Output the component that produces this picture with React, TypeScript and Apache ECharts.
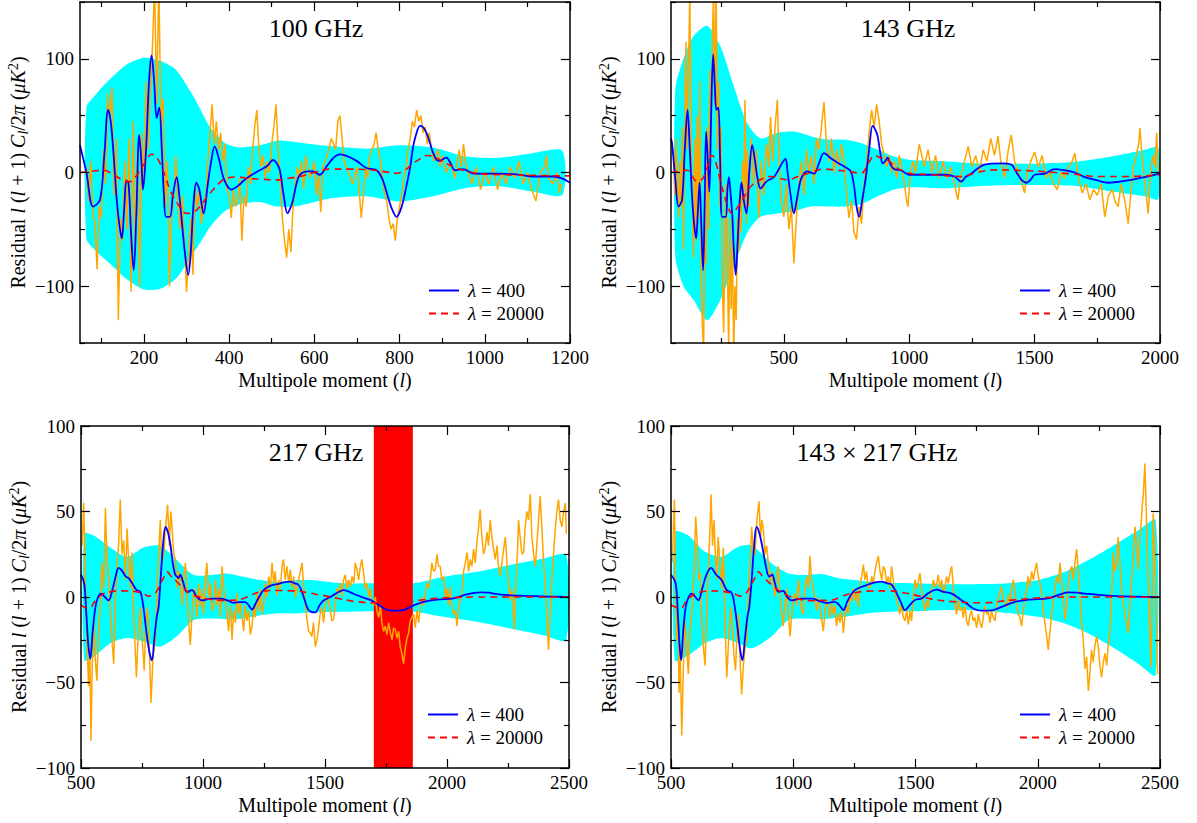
import { useEffect, useRef } from 'react';
import * as echarts from 'echarts';

const FONT = "'Liberation Serif', 'DejaVu Serif', 'Times New Roman', serif";

// ---------- text ----------
const panelTitles = ['100 GHz', '143 GHz', '217 GHz', '143 × 217 GHz'];
const legendNames = ['λ = 400', 'λ = 20000'];
const xAxisName = 'Multipole moment ({i|l})';
const yAxisName = 'Residual {i|l} ({i|l} + 1) {i|C}{sub|l}/2{i|π} ({i|μK}{sup|2})';

// ---------- axes ----------
const xRange100 = [50, 1200];
const xRange143 = [50, 2000];
const xRangeHigh = [500, 2500];
const yRangeTop = [-150, 150];
const yRangeBottom = [-100, 100];

const xLabels100 = [200, 400, 600, 800, 1000, 1200];
const xMinor100 = [100, 300, 500, 700, 900, 1100];
const xLabels143 = [500, 1000, 1500, 2000];
const xMinor143 = [250, 750, 1250, 1750];
const xLabelsHigh = [500, 1000, 1500, 2000, 2500];
const xMinorHigh = [750, 1250, 1750, 2250];
const yLabelsTop = [-100, 0, 100];
const yMinorTop = [-150, -50, 50, 150];
const yLabelsBottom = [-100, -50, 0, 50, 100];
const yMinorBottom = [-75, -25, 25, 75];

// masked multipole range in the 217 GHz panel
const masked217 = [1700, 1860];

// ---------- 100 GHz ----------
const bandL100 = [65, 90, 120, 160, 200, 240, 276, 316, 340, 355, 378, 394, 425, 472, 511, 550, 589, 643, 722, 800, 878, 956, 1034, 1112, 1182];
const bandHi100 = [57, 70, 82, 95, 101, 98, 90, 67, 50, 40, 30, 25, 22, 24, 28, 27, 25, 23, 21, 24, 22, 14, 13, 17, 19];
const bandLo100 = [-58, -70, -80, -94, -103, -102, -93, -71, -57, -48, -38, -33, -28, -26, -30, -30, -27, -22.5, -21, -25.5, -21, -13.6, -12, -16.7, -19.6];

const blue100 = [[50,24],[65,0],[81,-30],[97,-24],[107,15],[116,55],[122,45],[128,20],[136,-23],[142,-45],[148,-58],[154,-30],[159,-7],[164,-10],[170,-55],[176,-86],[182,-40],[189,33],[194,10],[198,-15],[205,20],[212,80],[218,103],[224,80],[230,48],[236,57],[242,20],[247,-20],[252,-39],[261,-39],[268,-20],[277,-4],[283,-20],[288,-39],[296,-70],[304,-90],[310,-70],[316,-30],[323,-9],[330,-15],[340,-36],[350,-10],[358,10],[366,23],[376,12],[386,-4],[396,-12],[405,-15],[420,-12],[441,-5],[472,2],[490,6],[503,11],[512,8],[519,2],[528,-20],[537,-36],[545,-30],[550,-24],[558,-10],[566,-2],[585,1],[597,1],[612,-2],[630,6],[645,13],[660,16],[680,14],[700,10],[722,4],[746,2],[760,-6],[770,-18],[782,-32],[793,-39],[805,-30],[816,-12],[825,5],[832,23],[840,35],[848,41],[855,40],[863,35],[872,25],[879,17],[887,11],[895,10],[903,12],[910,13],[920,8],[930,2],[950,3],[973,-1],[1035,-1],[1082,-2],[1113,-3.5],[1160,-3.5],[1180,-5],[1200,-9]];
const red100 = [[50,0],[75,1],[105,2],[120,0],[136,-3.5],[152,-7],[167,-8],[180,-4],[191,2],[205,10],[218,16],[228,14],[238,8],[250,-3],[261,-15],[275,-25],[288,-32],[300,-36],[315,-35],[331,-30],[347,-22],[363,-15],[378,-9],[394,-5],[420,-4],[441,-5],[480,-6],[511,-6.5],[540,-5],[566,-3.5],[600,0],[643,3],[680,3],[722,2.4],[760,1],[793,-0.6],[812,2],[832,8],[848,12],[863,15],[880,14],[895,11],[915,7],[934,4],[960,1],[989,-1],[1050,-2],[1120,-2.5],[1192,-3],[1200,-3]];
const orange100 = [[65,5],[70,-25],[75,10],[80,-35],[85,-45],[90,-85],[95,-30],[100,-40],[105,20],[110,-10],[115,70],[120,45],[125,75],[130,-20],[135,30],[140,-130],[145,-40],[150,-60],[155,10],[160,-50],[165,30],[170,-105],[175,45],[180,-70],[185,20],[190,-100],[195,35],[200,-10],[205,80],[210,20],[215,70],[220,110],[225,165],[230,60],[235,170],[240,40],[245,65],[250,-30],[255,10],[260,-100],[265,-40],[270,-20],[275,15],[280,-30],[285,-50],[290,-20],[295,-60],[300,-105],[305,-70],[310,-40],[315,-90],[320,-10],[325,-30],[330,-15],[335,-45],[340,-30],[345,-20],[350,10],[355,35],[360,60],[365,25],[370,45],[375,20],[380,35],[385,10],[390,25],[395,-15],[400,-20],[405,-40],[410,-15],[415,-30],[420,-25],[425,-5],[430,-60],[435,-20],[440,-30],[445,5],[450,-10],[455,20],[460,40],[465,55],[470,20],[475,5],[480,15],[485,-5],[490,10],[495,0],[500,25],[505,40],[510,60],[515,20],[520,-10],[525,-40],[530,-60],[535,-75],[540,-50],[545,-70],[550,-30],[555,-10],[560,5],[565,-5],[570,10],[575,-15],[580,15],[590,-5],[600,10],[605,-20],[610,0],[615,-35],[620,5],[630,15],[640,30],[650,20],[655,45],[660,50],[665,30],[670,10],[680,0],[690,-10],[700,5],[705,-15],[710,-40],[715,-20],[720,5],[725,-5],[730,15],[740,25],[745,35],[750,20],[755,10],[760,-5],[765,-20],[770,-25],[775,-40],[780,-50],[785,-45],[790,-60],[795,-40],[800,-30],[805,-20],[810,-5],[815,5],[820,20],[825,30],[830,45],[835,40],[840,55],[845,45],[850,50],[855,35],[860,40],[865,25],[870,35],[875,20],[880,10],[890,20],[895,5],[900,15],[910,0],[920,10],[930,-5],[940,20],[945,5],[950,25],[955,10],[960,0],[970,-10],[980,5],[990,-15],[1000,0],[1010,-10],[1020,5],[1030,-15],[1040,0],[1050,-10],[1060,5],[1070,-5],[1080,10],[1090,-10],[1100,0],[1110,-15],[1120,-25],[1130,0],[1140,5],[1145,15],[1150,-5],[1160,-10],[1170,0],[1175,-18],[1180,-10]];

// ---------- 143 GHz ----------
const bandL143 = [67, 100, 140, 194, 247, 300, 354, 407, 474, 540, 607, 674, 740, 807, 874, 940, 1007, 1140, 1274, 1407, 1540, 1674, 1807, 1940, 1993];
const bandHi143 = [73, 100, 120, 129, 111, 76, 43, 30, 35, 36, 32, 29, 29, 26, 20, 14, 11, 10, 8, 7.6, 8, 9.7, 14, 20, 22];
const bandLo143 = [-74, -100, -112, -130, -112, -83, -53, -39, -36, -34, -30, -30, -30, -28, -21, -15, -13, -13.8, -12, -11, -11, -12, -16.7, -21, -23.5];

const blue143 = [[50,30],[54,26],[67,-5],[80,-30],[94,-24],[105,20],[116,55],[125,20],[134,-21],[142,-45],[150,-58],[157,-35],[164,-9],[170,-40],[178,-86],[184,-30],[190,36],[197,10],[203,-17],[210,50],[218,104],[225,75],[231,55],[239,57],[246,10],[254,-39],[268,-39],[275,-15],[281,-4],[288,-20],[294,-36],[301,-70],[308,-90],[316,-60],[324,-25],[331,-9],[340,-24],[351,-36],[362,0],[374,24],[385,10],[395,-5],[407,-14],[430,-8],[460,-4],[480,3],[495,9],[507,12],[514,2],[527,-20],[540,-36],[554,-21],[570,-5],[594,1],[620,-1],[640,8],[660,17],[690,12],[727,7],[750,4],[767,1],[780,-12],[790,-30],[800,-39],[812,-25],[827,-4],[840,20],[854,41],[864,38],[874,32],[884,18],[894,8],[904,10],[914,13],[925,7],[940,3],[967,2],[1000,-2],[1140,-2],[1180,-3.5],[1207,-8],[1225,-4],[1247,-1],[1270,3],[1300,7],[1367,8],[1407,7],[1420,3],[1434,-2],[1450,-7],[1467,-9],[1485,-6],[1500,-2],[1540,-1],[1580,3],[1620,2],[1660,0],[1700,-4],[1750,-7],[1793,-9],[1840,-8],[1873,-7],[1940,-4],[2000,-1]];
const red143 = [[50,0],[80,1],[114,2],[134,-3],[154,-8],[167,-7],[180,-4],[197,6],[214,15],[230,8],[247,-8],[260,-18],[277,-30],[294,-36],[314,-31],[334,-24],[354,-17],[374,-11],[410,-6],[447,-3.5],[480,-5],[514,-6.5],[550,-4],[580,-2],[620,1],[660,3],[710,2],[754,1],[807,-0.6],[830,5],[845,11],[860,15],[885,13],[914,11],[945,5],[980,1],[1007,-1],[1100,-2],[1207,-3.5],[1270,0],[1340,2.3],[1447,1.8],[1580,0],[1680,-2],[1753,-3.5],[1873,-3.5],[2000,-2]];
const orange143 = [[60,20],[65,-20],[70,30],[75,-10],[80,-40],[85,10],[90,-30],[95,40],[100,-68],[105,60],[110,115],[115,20],[120,90],[125,160],[130,40],[135,-30],[140,-75],[145,30],[150,-60],[155,50],[160,-40],[165,80],[170,-90],[175,-134],[180,-160],[185,-20],[190,-80],[195,40],[200,-50],[205,90],[210,30],[215,120],[220,160],[225,60],[230,165],[235,20],[240,80],[245,-30],[250,40],[255,-100],[260,-141],[265,-60],[270,-10],[275,-80],[280,-160],[285,-40],[290,-120],[295,-60],[300,-160],[305,-100],[310,-130],[315,-40],[320,-70],[325,-20],[330,-53],[335,10],[340,-30],[345,64],[350,-45],[355,20],[360,-30],[370,30],[380,-10],[390,20],[400,-40],[410,10],[420,-20],[430,25],[440,5],[447,49],[455,10],[465,40],[474,64],[480,20],[490,-25],[500,-39],[510,-10],[520,-50],[530,-30],[540,-80],[550,-40],[560,-10],[570,10],[580,-20],[590,20],[600,0],[610,15],[620,-10],[630,30],[640,20],[650,40],[660,62],[670,25],[680,10],[690,30],[700,0],[710,20],[720,5],[730,25],[740,10],[750,-20],[760,-40],[770,-25],[780,-53],[790,-59],[800,-30],[810,-45],[820,-10],[830,10],[840,35],[850,55],[860,40],[870,60],[880,45],[890,25],[900,15],[910,5],[920,15],[930,0],[940,10],[950,-5],[960,15],[970,5],[980,-10],[990,-25],[995,-30],[1005,0],[1015,10],[1025,0],[1040,25],[1050,15],[1060,5],[1075,20],[1090,0],[1105,15],[1120,-5],[1135,10],[1150,-5],[1165,5],[1180,-10],[1194,-24],[1205,-5],[1220,10],[1235,23],[1250,5],[1265,15],[1280,0],[1295,20],[1310,10],[1325,30],[1340,15],[1354,32],[1365,10],[1380,-5],[1395,20],[1407,33],[1420,10],[1435,0],[1450,-10],[1460,-18],[1470,0],[1485,10],[1500,18],[1515,5],[1530,15],[1545,-5],[1560,0],[1575,-10],[1590,-15],[1605,0],[1620,-5],[1635,5],[1650,10],[1660,17],[1675,-5],[1690,-18],[1705,-10],[1720,-24],[1735,-15],[1750,-20],[1765,-10],[1780,-39],[1795,-20],[1810,-15],[1820,-25],[1833,-30],[1845,-10],[1860,-25],[1873,-45],[1885,-15],[1895,5],[1905,15],[1915,25],[1920,39],[1930,10],[1940,-10],[1953,-36],[1962,0],[1972,15],[1980,5],[1987,35],[1993,-3]];

// ---------- 217 GHz ----------
const bandL217 = [513, 552, 620, 688, 757, 825, 893, 962, 1030, 1098, 1166, 1235, 1303, 1371, 1440, 1576, 1686, 1863, 1986, 2123, 2259, 2396, 2488];
const bandHi217 = [37, 36, 29, 23.5, 29, 30, 21.5, 12.8, 12.8, 13.7, 11.8, 9.9, 8.9, 9.9, 9.9, 8, 8, 8, 11.8, 14.7, 18.7, 22.5, 24.5];
const bandLo217 = [-37, -35, -27, -24, -26, -29, -23, -13.5, -12.6, -13, -12.6, -10.6, -9.6, -9.6, -9, -8.6, -8.3, -8.6, -11.6, -14.5, -18.4, -22.3, -25];

const blue217 = [[500,13],[513,8],[522,-10],[530,-28],[538,-36],[548,-20],[559,-6],[570,0],[582,2],[598,0],[613,-2],[630,5],[642,12],[654,17],[670,15],[683,12],[695,11],[710,8],[728,4],[743,3],[755,-5],[766,-18],[780,-32],[791,-37],[800,-25],[810,-12],[818,-6],[826,10],[836,30],[846,41],[856,38],[866,31],[876,20],[886,13],[893,12],[900,11],[907,13],[918,9],[934,3],[955,4],[975,0],[996,-2],[1030,-1],[1071,-1],[1100,-2],[1126,-3.4],[1150,-3],[1173,-3],[1188,-5],[1201,-7.3],[1215,-4],[1230,0],[1248,4],[1275,6.5],[1303,7.5],[1330,8.5],[1358,9],[1375,8],[1388,7.5],[1400,5],[1415,-1],[1433,-7.7],[1460,-9],[1477,-5],[1494,-2],[1522,0],[1550,2.5],[1576,4],[1600,3],[1631,1],[1660,-0.5],[1690,-2],[1713,-4],[1740,-6.5],[1768,-8],[1795,-8],[1822,-7.7],[1860,-5],[1904,-2.8],[1960,-1.5],[2027,-0.8],[2080,1.5],[2136,2.7],[2170,2.5],[2205,1.7],[2260,1],[2314,0.7],[2400,0.3],[2500,0]];
const red217 = [[500,-4.7],[515,-6],[531,-6.7],[560,-2],[593,2],[620,3],[654,3.6],[690,3.5],[730,3],[760,1.5],[777,0.5],[795,1.5],[811,3.6],[830,9],[845,13],[852,14.7],[870,12],[893,8.9],[920,5],[962,1.1],[1010,-0.8],[1057,-1.8],[1100,-2],[1139,-1.8],[1180,0],[1235,3],[1300,3.8],[1371,3.6],[1430,2.5],[1481,1.1],[1508,0.5],[1560,-1],[1620,-2.5],[1713,-3.4],[1795,-3.4],[1880,-2],[1959,-0.8],[2050,-0.2],[2123,0],[2300,0],[2500,0]];
const orange217 = [[505,30],[511,55],[518,10],[524,-23],[531,-52],[536,-30],[541,-84],[546,-40],[552,-13],[558,-35],[565,-49],[572,-20],[579,-6],[586,20],[593,5],[600,52],[606,25],[613,12],[620,-10],[627,-25],[634,-39],[640,-5],[647,16],[654,30],[661,57],[668,25],[675,33],[682,10],[689,40],[695,22],[702,5],[709,26],[716,-10],[722,-30],[727,-47],[735,-20],[743,-6],[751,-25],[759,-43],[766,-15],[773,-6],[780,-30],[787,-62],[795,-35],[805,-25],[812,5],[818,25],[825,45],[832,20],[839,24],[846,40],[855,54],[862,30],[868,50],[873,41],[880,25],[887,22],[895,5],[900,15],[907,10],[915,-5],[920,10],[928,20],[935,0],[941,-15],[948,-28],[955,-10],[962,5],[969,2],[976,-12],[982,8],[989,-6],[996,5],[1003,-10],[1009,10],[1016,20],[1023,0],[1030,8],[1037,-8],[1044,-6],[1051,10],[1058,-5],[1065,5],[1071,-12],[1078,18],[1085,5],[1092,-3],[1098,-10],[1105,-20],[1112,-5],[1119,-25],[1126,-8],[1133,-15],[1139,2],[1146,-10],[1153,-3],[1160,-12],[1167,-20],[1173,-5],[1180,-14],[1187,-8],[1194,-22],[1201,-17],[1208,-5],[1214,-12],[1221,2],[1228,-8],[1235,5],[1242,-10],[1249,-4],[1256,8],[1262,0],[1269,12],[1276,5],[1283,20],[1290,8],[1296,15],[1303,1],[1310,10],[1317,5],[1324,18],[1330,22],[1337,10],[1344,18],[1351,8],[1358,16],[1365,5],[1372,12],[1378,0],[1385,5],[1392,10],[1399,15],[1406,20],[1413,5],[1420,-5],[1426,-13],[1433,-20],[1440,-21],[1446,-23],[1453,-15],[1460,-29],[1467,-25],[1474,-18],[1480,-10],[1487,-6],[1494,-15],[1501,-5],[1508,0],[1515,-2],[1522,-8],[1528,-14],[1535,-13],[1542,-5],[1549,5],[1556,2],[1563,8],[1570,0],[1576,10],[1583,13],[1590,5],[1597,10],[1604,6],[1611,12],[1618,8],[1624,20],[1631,16],[1638,10],[1645,18],[1651,22],[1658,14],[1665,5],[1672,8],[1679,0],[1686,5],[1692,-2],[1699,-5],[1706,0],[1713,-8],[1720,-12],[1727,-5],[1733,-15],[1740,-20],[1747,-17],[1754,-22],[1761,-15],[1768,-21],[1775,-25],[1781,-18],[1788,-19],[1795,-24],[1802,-20],[1808,-29],[1815,-33],[1822,-39],[1829,-30],[1836,-24],[1843,-21],[1849,-14],[1856,-12],[1863,-10],[1870,-18],[1877,-8],[1884,-15],[1891,-5],[1897,0],[1904,-5],[1911,2],[1918,8],[1925,5],[1931,10],[1938,20],[1945,15],[1952,16],[1959,25],[1965,18],[1972,18],[1979,10],[1986,12],[1993,0],[2000,5],[2006,-5],[2013,6],[2020,-5],[2027,-10],[2034,-8],[2041,-17],[2048,-5],[2054,-2],[2061,2],[2068,15],[2075,20],[2082,26],[2089,15],[2095,22],[2102,18],[2109,28],[2116,20],[2123,33],[2129,40],[2136,51],[2143,35],[2150,25],[2157,29],[2164,38],[2170,30],[2177,45],[2184,35],[2191,28],[2198,22],[2205,30],[2211,18],[2218,12],[2225,20],[2232,28],[2239,35],[2246,20],[2252,8],[2259,-2],[2266,5],[2272,-10],[2276,-19],[2283,10],[2290,30],[2293,45],[2300,35],[2307,25],[2314,26],[2320,40],[2327,50],[2334,45],[2341,60],[2348,35],[2355,25],[2362,18],[2368,30],[2375,45],[2382,59],[2389,40],[2396,20],[2403,6],[2409,-10],[2416,-31],[2423,-10],[2430,10],[2437,26],[2444,40],[2450,50],[2457,57],[2464,45],[2471,41],[2478,50],[2485,55],[2489,37]];

// ---------- 143 x 217 GHz ----------
const bandLX = [516, 571, 639, 707, 775, 830, 912, 980, 1048, 1116, 1184, 1252, 1321, 1389, 1498, 1593, 1730, 1866, 2002, 2111, 2207, 2302, 2411, 2482];
const bandHiX = [38, 36, 26.4, 23.5, 29.4, 30.3, 19.6, 13.8, 12.8, 13.4, 11, 9.9, 8.9, 8.3, 8, 7.5, 7.5, 7.9, 9.9, 14.7, 21.6, 29.4, 39, 45];
const bandLoX = [-37, -34, -27, -24, -27, -30, -23, -13.5, -12.6, -13, -12, -10.6, -9.2, -8.6, -8.3, -7.7, -7.7, -9.2, -11.6, -15.5, -21.3, -29, -39, -45.7];

const blueX = [[500,13],[519,8],[528,-10],[535,-28],[541,-37],[550,-20],[560,-6],[572,0],[585,2],[600,0],[612,-2],[628,5],[645,13],[664,17],[685,13],[707,10],[728,4],[748,2.4],[760,-5],[772,-18],[784,-32],[792,-37],[802,-25],[812,-12],[820,-6],[830,10],[840,30],[850,41],[862,37],[874,29],[888,18],[901,12],[914,13],[925,8],[939,3],[959,3.6],[975,0],[993,-2],[1030,-1],[1075,-1],[1110,-2.5],[1136,-3.4],[1170,-2.8],[1190,-5],[1205,-7.7],[1220,-3],[1235,1],[1252,4],[1280,6],[1307,7.3],[1335,8.5],[1361,9],[1385,8],[1402,7.3],[1420,3],[1440,-3],[1457,-7.7],[1475,-5],[1498,-1.8],[1525,-0.8],[1555,2.5],[1586,4.3],[1615,3],[1648,2],[1680,-1],[1710,-4],[1740,-7],[1770,-8],[1800,-8],[1825,-7.3],[1865,-5],[1907,-2.8],[1970,-1.5],[2043,-0.8],[2090,1.5],[2125,2.7],[2160,2.5],[2193,2],[2250,1.2],[2302,0.7],[2400,0.2],[2500,0]];
const redX = [[500,-4.7],[520,-6],[537,-6.7],[565,-2],[598,2],[625,3],[659,3.6],[695,3.5],[734,2.7],[765,1.5],[782,0.5],[800,1.5],[816,4],[835,9],[850,13],[857,14.7],[875,12],[898,8.9],[930,5],[973,1.1],[1020,-1],[1075,-2.2],[1115,-2],[1157,-1.8],[1200,0.5],[1252,2.5],[1320,3.5],[1389,3.6],[1450,2.5],[1498,1.1],[1560,-1],[1661,-2.8],[1770,-3.4],[1893,-1.8],[2029,-0.4],[2150,0],[2300,0],[2500,0]];
const orangeX = [[505,20],[514,57],[518,15],[523,-25],[528,-10],[533,-56],[538,-35],[544,-81],[550,-45],[557,-13],[564,-30],[571,-45],[578,-20],[587,-6],[594,15],[601,47],[608,30],[614,10],[619,14],[626,-15],[633,-30],[639,-40],[646,-10],[653,16],[658,35],[664,60],[670,30],[676,45],[680,29],[687,10],[693,35],[700,20],[707,5],[714,29],[720,-10],[728,-47],[736,-25],[745,-6],[752,-20],[758,-35],[764,-43],[770,-20],[775,-10],[782,-35],[789,-57],[796,-40],[803,-30],[810,-25],[816,0],[823,20],[830,41],[837,25],[844,25],[851,45],[860,56],[866,35],[872,45],[878,39],[885,25],[891,30],[898,20],[905,8],[912,15],[918,10],[925,0],[932,12],[939,18],[946,0],[952,-8],[959,-17],[966,-5],[973,5],[980,-10],[987,-23],[994,-10],[1000,0],[1007,2],[1014,-5],[1021,10],[1028,0],[1034,-8],[1041,-10],[1048,5],[1055,12],[1062,5],[1068,24],[1075,10],[1082,5],[1089,-2],[1096,-8],[1102,0],[1109,-5],[1116,-13],[1123,-20],[1130,-8],[1136,-2],[1143,-6],[1150,-12],[1157,-3],[1164,-10],[1170,-5],[1177,-17],[1184,-10],[1191,-15],[1198,-8],[1205,-21],[1211,-12],[1218,-5],[1225,-10],[1232,2],[1239,-3],[1245,5],[1252,-2],[1259,3],[1266,-6],[1273,8],[1280,12],[1287,19],[1293,10],[1300,15],[1307,5],[1314,6],[1321,12],[1328,8],[1334,15],[1341,20],[1348,24],[1355,15],[1362,10],[1368,18],[1375,16],[1382,8],[1389,12],[1396,5],[1402,18],[1409,10],[1416,3],[1423,-2],[1430,-6],[1436,-10],[1443,-4],[1450,-12],[1457,-14],[1464,-8],[1471,-16],[1478,-8],[1484,-14],[1491,0],[1498,10],[1505,5],[1511,8],[1518,14],[1525,5],[1532,-3],[1539,-8],[1546,-2],[1552,-6],[1559,0],[1566,4],[1573,10],[1580,6],[1587,8],[1593,13],[1600,5],[1607,10],[1614,2],[1621,6],[1627,12],[1634,8],[1641,14],[1648,18],[1655,5],[1661,-3],[1668,-10],[1675,-2],[1682,-8],[1689,-6],[1695,-12],[1702,-5],[1709,-14],[1716,-17],[1723,-10],[1729,-8],[1736,-14],[1743,-12],[1750,-18],[1757,-10],[1764,-15],[1771,-18],[1777,-12],[1784,-5],[1791,-10],[1798,-9],[1805,-15],[1811,-8],[1818,-12],[1825,-14],[1832,-5],[1839,0],[1845,3],[1852,6],[1859,-2],[1866,-4],[1873,-6],[1880,2],[1886,-5],[1893,5],[1900,10],[1907,2],[1914,-5],[1920,-10],[1927,-12],[1934,-17],[1941,-8],[1948,0],[1954,5],[1961,12],[1968,6],[1975,15],[1982,10],[1988,15],[1995,20],[2002,12],[2009,8],[2016,2],[2023,-8],[2029,-15],[2036,-22],[2043,-31],[2050,-20],[2057,-10],[2064,-2],[2070,5],[2077,12],[2084,8],[2091,20],[2098,10],[2104,0],[2111,-13],[2118,-5],[2125,8],[2132,15],[2139,18],[2145,10],[2152,20],[2159,28],[2166,15],[2173,0],[2179,-14],[2186,-25],[2193,-42],[2200,-35],[2207,-55],[2213,-45],[2220,-31],[2227,-38],[2234,-28],[2241,-23],[2248,-30],[2254,-40],[2261,-47],[2268,-38],[2275,-33],[2282,-40],[2288,-28],[2295,-21],[2302,0],[2309,26],[2316,15],[2322,20],[2329,35],[2336,20],[2343,5],[2350,-4],[2357,-10],[2363,-15],[2370,-21],[2377,-5],[2384,10],[2391,25],[2398,41],[2404,30],[2411,16],[2418,35],[2424,45],[2427,53],[2432,60],[2438,78],[2443,55],[2449,22],[2456,-10],[2463,-41],[2468,0],[2472,49],[2477,30],[2482,10],[2486,-20],[2490,-45]];

// ---------- panel assembly ----------
const panels = [
  { title: panelTitles[0], xr: xRange100, yr: yRangeTop, xl: xLabels100, xm: xMinor100, yl: yLabelsTop, ym: yMinorTop, bandL: bandL100, bandHi: bandHi100, bandLo: bandLo100, orange: orange100, blue: blue100, red: red100, mask: null as number[] | null },
  { title: panelTitles[1], xr: xRange143, yr: yRangeTop, xl: xLabels143, xm: xMinor143, yl: yLabelsTop, ym: yMinorTop, bandL: bandL143, bandHi: bandHi143, bandLo: bandLo143, orange: orange143, blue: blue143, red: red143, mask: null },
  { title: panelTitles[2], xr: xRangeHigh, yr: yRangeBottom, xl: xLabelsHigh, xm: xMinorHigh, yl: yLabelsBottom, ym: yMinorBottom, bandL: bandL217, bandHi: bandHi217, bandLo: bandLo217, orange: orange217, blue: blue217, red: red217, mask: masked217 },
  { title: panelTitles[3], xr: xRangeHigh, yr: yRangeBottom, xl: xLabelsHigh, xm: xMinorHigh, yl: yLabelsBottom, ym: yMinorBottom, bandL: bandLX, bandHi: bandHiX, bandLo: bandLoX, orange: orangeX, blue: blueX, red: redX, mask: null },
];

// layout (pixels)
const gridBoxes = [
  { left: 80, top: 2, width: 490, height: 341 },
  { left: 671, top: 2, width: 489, height: 341 },
  { left: 81, top: 426, width: 488, height: 342 },
  { left: 671, top: 426, width: 489, height: 342 },
];
const titlePos = [[316, 28], [908, 28], [316, 452], [877, 452]];
const legendPos = [[428, 281], [1019, 281], [427, 705], [1019, 705]];

const NAME_SIZE = 20;
const richText = {
  i: { fontFamily: FONT, fontStyle: 'italic', fontSize: NAME_SIZE, color: '#000' },
  sub: { fontFamily: FONT, fontStyle: 'italic', fontSize: 14, color: '#000', padding: [10, 0, 0, 0] },
  sup: { fontFamily: FONT, fontSize: 14, color: '#000', padding: [0, 0, 10, 0] },
};

function fmtY(v: number) {
  return v < 0 ? '\u2212' + Math.abs(v) : String(v);
}

function buildOption() {
  const xAxis: any[] = [];
  const yAxis: any[] = [];
  const series: any[] = [];
  const axisLine = { show: true, onZero: false, lineStyle: { color: '#000', width: 1.5 } };
  const noLine = { show: false, onZero: false };
  const tick = (vals: number[], len: number) => ({ show: true, inside: true, length: len, lineStyle: { color: '#000', width: 1.2 }, customValues: vals });
  const labelBase = { fontFamily: FONT, fontSize: 19, color: '#000' };
  const MAJ = 9;
  const MIN = 5;

  panels.forEach((p, i) => {
    const xBase = { type: 'value', gridIndex: i, min: p.xr[0], max: p.xr[1], z: 10, splitLine: { show: false } };
    const yBase = { type: 'value', gridIndex: i, min: p.yr[0], max: p.yr[1], z: 10, splitLine: { show: false } };
    // x axes: 4 per grid (main bottom, top mirror, minor bottom, minor top)
    xAxis.push({
      ...xBase, position: 'bottom', axisLine, axisTick: tick(p.xl, MAJ),
      axisLabel: { ...labelBase, show: true, margin: 5, customValues: p.xl, formatter: (v: number) => String(v) },
      name: xAxisName, nameLocation: 'middle', nameGap: 27, nameMoveOverlap: false,
      nameTextStyle: { fontFamily: FONT, fontSize: NAME_SIZE, color: '#000', rich: richText },
    });
    xAxis.push({ ...xBase, position: 'top', axisLine, axisTick: tick(p.xl, MAJ), axisLabel: { show: false } });
    xAxis.push({ ...xBase, position: 'bottom', axisLine: noLine, axisTick: tick(p.xm, MIN), axisLabel: { show: false } });
    xAxis.push({ ...xBase, position: 'top', axisLine: noLine, axisTick: tick(p.xm, MIN), axisLabel: { show: false } });
    // y axes
    yAxis.push({
      ...yBase, position: 'left', axisLine, axisTick: tick(p.yl, MAJ),
      axisLabel: { ...labelBase, show: true, margin: 6, customValues: p.yl, formatter: fmtY },
      name: yAxisName, nameLocation: 'middle', nameGap: 50, nameRotate: 90, nameMoveOverlap: false,
      nameTextStyle: { fontFamily: FONT, fontSize: NAME_SIZE, color: '#000', rich: richText },
    });
    yAxis.push({ ...yBase, position: 'right', axisLine, axisTick: tick(p.yl, MAJ), axisLabel: { show: false } });
    yAxis.push({ ...yBase, position: 'left', axisLine: noLine, axisTick: tick(p.ym, MIN), axisLabel: { show: false } });
    yAxis.push({ ...yBase, position: 'right', axisLine: noLine, axisTick: tick(p.ym, MIN), axisLabel: { show: false } });

    const xi = 4 * i;
    const yi = 4 * i;
    const bandL = p.bandL, bandHi = p.bandHi, bandLo = p.bandLo;
    series.push({
      type: 'custom', name: 'band' + i, xAxisIndex: xi, yAxisIndex: yi, z: 1, silent: true,
      data: [[bandL[0], bandHi[0]]],
      renderItem: (_params: any, api: any) => {
        const pts: number[][] = [];
        for (let k = 0; k < bandL.length; k++) pts.push(api.coord([bandL[k], bandHi[k]]));
        for (let k = bandL.length - 1; k >= 0; k--) pts.push(api.coord([bandL[k], bandLo[k]]));
        return { type: 'polygon', shape: { points: pts, smooth: 0.25 }, style: { fill: '#00ffff' } };
      },
    });
    if (p.mask) {
      series.push({
        type: 'custom', name: 'mask' + i, xAxisIndex: xi, yAxisIndex: yi, z: 2, silent: true,
        data: [[p.mask[0], p.mask[1], p.yr[0], p.yr[1]]],
        encode: { x: [0, 1], y: [2, 3] },
        renderItem: (_params: any, api: any) => {
          const a = api.coord([api.value(0), api.value(3)]);
          const b = api.coord([api.value(1), api.value(2)]);
          return { type: 'rect', shape: { x: a[0], y: a[1], width: b[0] - a[0], height: b[1] - a[1] }, style: { fill: '#ff0000' } };
        },
      });
    }
    series.push({
      type: 'line', name: 'data' + i, xAxisIndex: xi, yAxisIndex: yi, z: 3, silent: true,
      data: p.orange, symbol: 'none', showSymbol: false, clip: true,
      lineStyle: { color: '#ffa500', width: 1.5 },
    });
    series.push({
      type: 'line', name: legendNames[0], xAxisIndex: xi, yAxisIndex: yi, z: 4, silent: true,
      data: p.blue, symbol: 'none', showSymbol: false, smooth: 0.35, clip: true,
      itemStyle: { color: '#0000ff' },
      lineStyle: { color: '#0000ff', width: 1.8 },
    });
    series.push({
      type: 'line', name: legendNames[1], xAxisIndex: xi, yAxisIndex: yi, z: 5, silent: true,
      data: p.red, symbol: 'none', showSymbol: false, smooth: 0.5, clip: true,
      itemStyle: { color: '#ff0000' },
      lineStyle: { color: '#ff0000', width: 1.6, type: [7, 5] },
    });
  });

  const legend = legendPos.map(([l, t]) => ({
    data: legendNames, orient: 'vertical', left: l, top: t, padding: 0,
    itemWidth: 30, itemHeight: 12, itemGap: 4, selectedMode: false,
    itemStyle: { opacity: 0, borderWidth: 0 },
    formatter: (n: string) => n.replace('λ', '{i|λ}'),
    textStyle: { fontFamily: FONT, fontSize: 19, color: '#000', padding: [0, 0, 0, 4], rich: { i: { fontFamily: FONT, fontStyle: 'italic', fontSize: 19, color: '#000' } } },
  }));

  const graphic = panels.map((p, i) => ({
    type: 'text', x: titlePos[i][0], y: titlePos[i][1], z: 20, silent: true,
    style: { text: p.title, font: `26px ${FONT}`, fill: '#000', align: 'center', verticalAlign: 'middle', textAlign: 'center', textVerticalAlign: 'middle' },
  }));

  return {
    animation: false,
    backgroundColor: '#ffffff',
    grid: gridBoxes.map((g) => ({ ...g, containLabel: false, outerBoundsMode: 'none', show: false })),
    xAxis, yAxis, series, legend, graphic,
    tooltip: { show: false },
  };
}

export default function App() {
  const ref = useRef<HTMLDivElement>(null);
  useEffect(() => {
    if (!ref.current) return;
    const chart = echarts.init(ref.current, null, { renderer: 'svg' });
    chart.setOption(buildOption() as any);
    return () => chart.dispose();
  }, []);
  return <div ref={ref} style={{ position: 'absolute', left: 0, top: 0, width: 1197, height: 823, background: '#fff' }} />;
}
